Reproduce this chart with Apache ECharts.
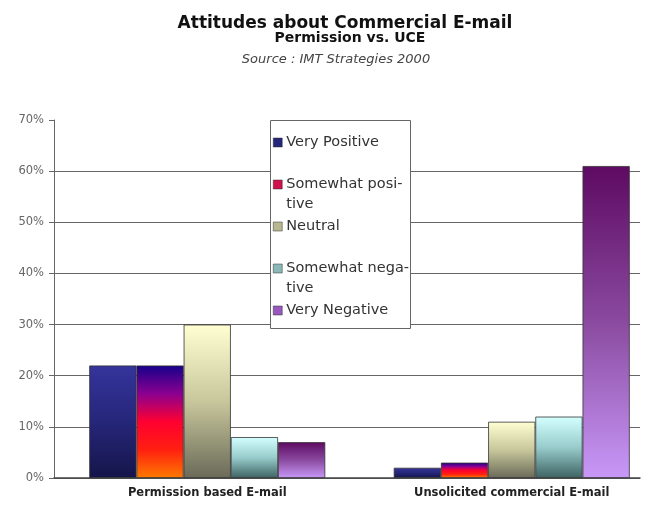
<!DOCTYPE html>
<html>
<head>
<meta charset="utf-8">
<script src="https://cdn.jsdelivr.net/npm/echarts@6/dist/echarts.min.js"></script>
<style>
  html, body { margin: 0; padding: 0; background: #fff; }
  #chart { width: 655px; height: 505px; }
</style>
</head>
<body>
<div id="chart"></div>
<script>
// Attitudes about Commercial E-mail (IMT Strategies 2000)
const categories = ['Permission based E-mail', 'Unsolicited commercial E-mail'];
const seriesNames = ['Very Positive', 'Somewhat positive', 'Neutral', 'Somewhat negative', 'Very Negative'];
const veryPositive = [22, 2];
const somewhatPositive = [22, 3];
const neutral = [30, 11];
const somewhatNegative = [8, 12];
const veryNegative = [7, 61];
const yTicks = [0, 10, 20, 30, 40, 50, 60, 70];

const seriesData = [veryPositive, somewhatPositive, neutral, somewhatNegative, veryNegative];

// legend labels wrap like the original
const legendLabels = {
  'Very Positive': 'Very Positive\n ',
  'Somewhat positive': 'Somewhat posi-\ntive',
  'Neutral': 'Neutral\n ',
  'Somewhat negative': 'Somewhat nega-\ntive',
  'Very Negative': 'Very Negative\n '
};

function grad(stops) {
  return new echarts.graphic.LinearGradient(0, 0, 0, 1,
    stops.map((c, i) => ({offset: i / (stops.length - 1), color: c})));
}

const fills = [
  grad(['#34349c', '#26267a', '#15154a']),
  grad(['#16008a', '#8a0090', '#ff0030', '#ff2010', '#ff7a00']),
  grad(['#ffffd2', '#c8c79c', '#6a6a58']),
  grad(['#d4ffff', '#98cccc', '#3e6262']),
  grad(['#5e0a62', '#8a4aa0', '#c898f8'])
];
const legendColors = ['#25257a', '#d0104a', '#b8b890', '#8ab8b8', '#9858c0'];

const chart = echarts.init(document.getElementById('chart'));

const option = {
  backgroundColor: '#ffffff',
  animation: false,
  title: [
    {
      text: 'Attitudes about Commercial E-mail',
      left: 340, top: 10, textAlign: 'center',
      textStyle: {fontFamily: 'DejaVu Sans', fontWeight: 'bold', fontSize: 17, color: '#111'}
    },
    {
      text: 'Permission vs. UCE',
      left: 345, top: 26, textAlign: 'center',
      textStyle: {fontFamily: 'DejaVu Sans', fontWeight: 'bold', fontSize: 14, color: '#111'}
    },
    {
      text: 'Source : IMT Strategies 2000',
      left: 331, top: 48, textAlign: 'center',
      textStyle: {fontFamily: 'DejaVu Sans', fontStyle: 'italic', fontWeight: 'normal', fontSize: 13, color: '#444'}
    }
  ],
  graphic: [
    {
      type: 'rect', z: 3,
      shape: {x: 270.5, y: 120.5, width: 140, height: 208},
      style: {fill: '#ffffff', stroke: '#666', lineWidth: 1}
    }
  ],
  legend: {
    orient: 'vertical',
    left: 273, top: 132,
    padding: 0,
    itemGap: 2,
    itemWidth: 9,
    itemHeight: 28,
    icon: 'path://M0,0h9v9h-9zM0,28h0.01v0.01h-0.01z',
    data: seriesNames.map((n, i) => ({name: n, itemStyle: {color: legendColors[i], borderColor: '#333', borderWidth: 0.5}})),
    formatter: name => legendLabels[name],
    textStyle: {fontFamily: 'DejaVu Sans', fontSize: 14.5, color: '#333', lineHeight: 20, padding: [0, 0, 0, -1]},
    selectedMode: false
  },
  grid: [
    {left: 54, right: 15, top: 120, bottom: 27, outerBoundsMode: 'none'},
    {left: 55, width: 609, top: 120, bottom: 27, outerBoundsMode: 'none'}
  ],
  xAxis: [
    {
      gridIndex: 0, type: 'category', data: categories,
      axisLine: {lineStyle: {color: '#444', width: 1.5}},
      axisTick: {show: false},
      axisLabel: {show: false},
      splitLine: {show: false}
    },
    {
      gridIndex: 1, type: 'category', data: categories,
      axisLine: {show: false},
      axisTick: {show: false},
      axisLabel: {
        margin: 9, fontFamily: 'DejaVu Sans', fontWeight: 'bold', fontSize: 11.5, color: '#222'
      }
    }
  ],
  yAxis: [
    {
      gridIndex: 0, type: 'value', min: 0, max: 70, interval: 10,
      axisLine: {show: true, lineStyle: {color: '#666'}},
      axisTick: {show: true, length: 5, lineStyle: {color: '#666'}},
      axisLabel: {
        margin: 10, fontFamily: 'DejaVu Sans', fontSize: 11.5, color: '#666',
        formatter: v => yTicks.indexOf(v) >= 0 ? v + '%' : ''
      },
      splitLine: {
        show: true,
        lineStyle: {color: ['#666', '#666', '#666', '#666', '#666', '#666', '#666', 'rgba(0,0,0,0)'], width: 1}
      }
    },
    {
      gridIndex: 1, type: 'value', min: 0, max: 70, interval: 10, show: false
    }
  ],
  series: seriesNames.map((name, i) => ({
    name: name,
    type: 'bar',
    xAxisIndex: 1,
    yAxisIndex: 1,
    barGap: '0%',
    barCategoryGap: '22.5%',
    data: seriesData[i],
    itemStyle: {color: fills[i], borderColor: '#333', borderWidth: 0.8}
  }))
};

chart.setOption(option);
</script>
</body>
</html>
